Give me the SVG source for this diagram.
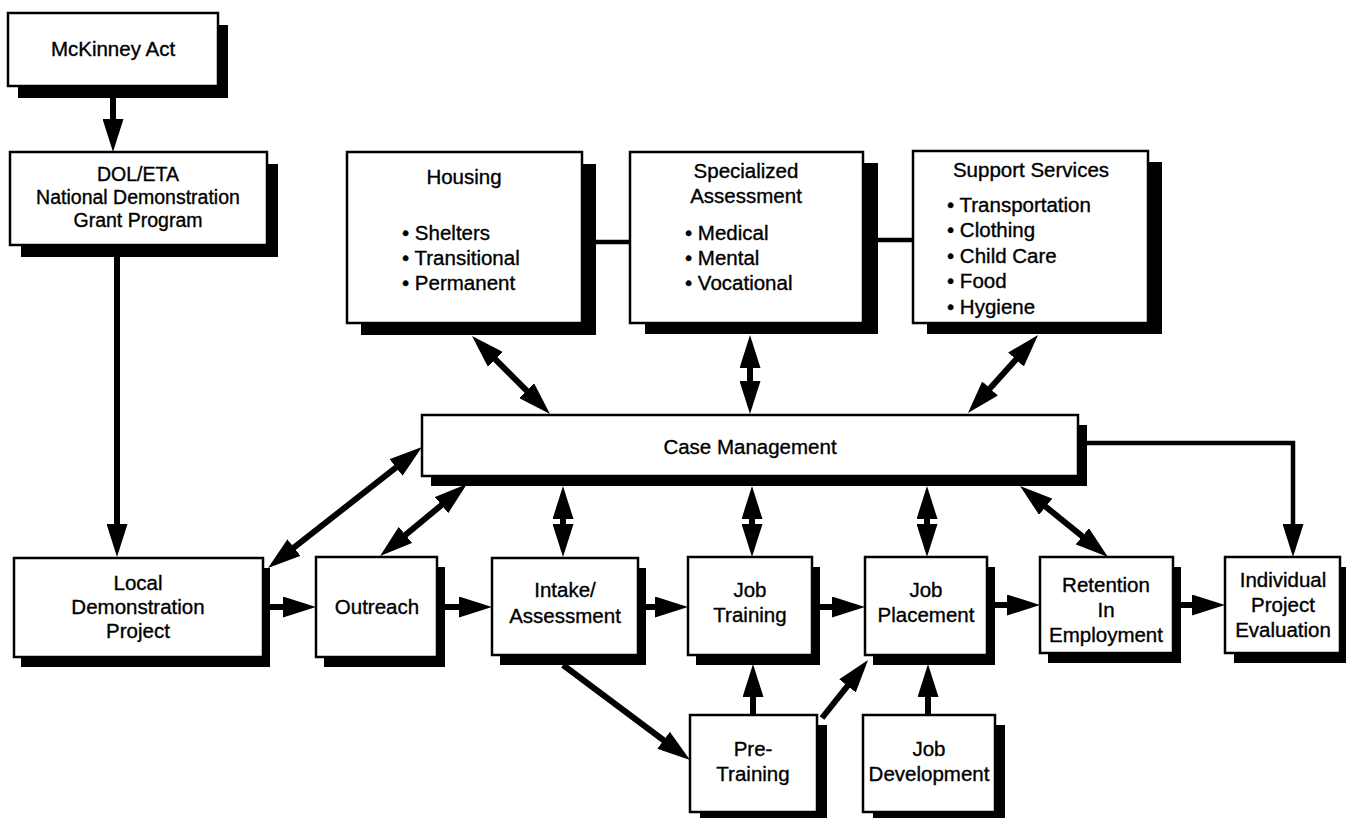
<svg xmlns="http://www.w3.org/2000/svg" width="1346" height="818" viewBox="0 0 1346 818">
<defs>
<style>
.box{fill:#fff;stroke:#000;stroke-width:2.5}
.sh{fill:#000}
text{font-family:"Liberation Sans",Arial,Helvetica,sans-serif;font-size:20.5px;fill:#000;stroke:#000;stroke-width:0.35}
.c{text-anchor:middle}
.sm{font-size:19.5px}
.conn{stroke:#000;stroke-width:6;fill:none}
.thin{stroke:#000;stroke-width:4.5;fill:none}
</style>
<marker id="ah" viewBox="0 0 33 21" markerWidth="33" markerHeight="21" refX="18" refY="10.5" orient="auto-start-reverse" markerUnits="userSpaceOnUse"><path d="M0,0 L33,10.5 L0,21 z" fill="#000"/></marker>
</defs>
<rect width="1346" height="818" fill="#fff"/>

<g id="mckinney">
<rect class="sh" x="18" y="25" width="210" height="73"/>
<rect class="box" x="8" y="13" width="210" height="73"/>
<text class="c" x="113" y="56">McKinney Act</text>
</g>

<g id="dol">
<rect class="sh" x="21" y="164" width="257" height="93"/>
<rect class="box" x="10" y="152" width="257" height="93"/>
<text class="c sm" x="138" y="181">DOL/ETA</text>
<text class="c sm" x="138" y="204">National Demonstration</text>
<text class="c sm" x="138" y="227">Grant Program</text>
</g>

<g id="housing">
<rect class="sh" x="361" y="164" width="235" height="171"/>
<rect class="box" x="347" y="152" width="235" height="171"/>
<text class="c" x="464" y="184">Housing</text>
<text x="402" y="240">• Shelters</text>
<text x="402" y="265">• Transitional</text>
<text x="402" y="290">• Permanent</text>
</g>

<g id="specialized">
<rect class="sh" x="645" y="163" width="233" height="171"/>
<rect class="box" x="630" y="152" width="233" height="171"/>
<text class="c" x="746" y="178">Specialized</text>
<text class="c" x="746" y="203">Assessment</text>
<text x="685" y="240">• Medical</text>
<text x="685" y="265">• Mental</text>
<text x="685" y="290">• Vocational</text>
</g>

<g id="support">
<rect class="sh" x="927" y="162" width="235" height="172"/>
<rect class="box" x="913" y="151" width="235" height="172"/>
<text class="c" x="1031" y="177">Support Services</text>
<text x="947" y="212">• Transportation</text>
<text x="947" y="237">• Clothing</text>
<text x="947" y="263">• Child Care</text>
<text x="947" y="288">• Food</text>
<text x="947" y="314">• Hygiene</text>
</g>

<g id="casemanagement">
<rect class="sh" x="431" y="425" width="656" height="61"/>
<rect class="box" x="422" y="415" width="656" height="61"/>
<text class="c" x="750" y="454">Case Management</text>
</g>

<g id="local">
<rect class="sh" x="21" y="568" width="249" height="99"/>
<rect class="box" x="14" y="558" width="249" height="99"/>
<text class="c" x="138" y="590">Local</text>
<text class="c" x="138" y="614">Demonstration</text>
<text class="c" x="138" y="638">Project</text>
</g>

<g id="outreach">
<rect class="sh" x="324" y="567" width="121" height="100"/>
<rect class="box" x="316" y="557" width="121" height="100"/>
<text class="c" x="377" y="614">Outreach</text>
</g>

<g id="intake">
<rect class="sh" x="500" y="568" width="146" height="97"/>
<rect class="box" x="492" y="558" width="146" height="97"/>
<text class="c" x="565" y="597">Intake/</text>
<text class="c" x="565" y="623">Assessment</text>
</g>

<g id="jobtraining">
<rect class="sh" x="696" y="567" width="124" height="98"/>
<rect class="box" x="688" y="557" width="124" height="98"/>
<text class="c" x="750" y="597">Job</text>
<text class="c" x="750" y="622">Training</text>
</g>

<g id="jobplacement">
<rect class="sh" x="873" y="567" width="122" height="98"/>
<rect class="box" x="865" y="557" width="122" height="98"/>
<text class="c" x="926" y="597">Job</text>
<text class="c" x="926" y="622">Placement</text>
</g>

<g id="retention">
<rect class="sh" x="1048" y="567" width="133" height="96"/>
<rect class="box" x="1040" y="557" width="133" height="96"/>
<text class="c" x="1106" y="592">Retention</text>
<text class="c" x="1106" y="617">In</text>
<text class="c" x="1106" y="642">Employment</text>
</g>

<g id="evaluation">
<rect class="sh" x="1234" y="567" width="115" height="96"/>
<rect class="box" x="1225" y="557" width="115" height="96"/>
<text class="c" x="1283" y="587">Individual</text>
<text class="c" x="1283" y="612">Project</text>
<text class="c" x="1283" y="637">Evaluation</text>
</g>

<g id="pretraining">
<rect class="sh" x="700" y="725" width="127" height="97"/>
<rect class="box" x="690" y="715" width="127" height="97"/>
<text class="c" x="753" y="756">Pre-</text>
<text class="c" x="753" y="781">Training</text>
</g>

<g id="jobdevelopment">
<rect class="sh" x="873" y="725" width="132" height="97"/>
<rect class="box" x="863" y="715" width="132" height="97"/>
<text class="c" x="929" y="756">Job</text>
<text class="c" x="929" y="781">Development</text>
</g>

<g id="connectors">
<line class="conn" x1="113" y1="98" x2="113" y2="137" marker-end="url(#ah)"/>
<line class="conn" x1="117" y1="257" x2="117" y2="542" marker-end="url(#ah)"/>
<line class="conn" x1="270" y1="607" x2="301" y2="607" marker-end="url(#ah)"/>
<line class="conn" x1="445" y1="607" x2="477" y2="607" marker-end="url(#ah)"/>
<line class="conn" x1="646" y1="607" x2="673" y2="607" marker-end="url(#ah)"/>
<line class="conn" x1="820" y1="607" x2="850" y2="607" marker-end="url(#ah)"/>
<line class="conn" x1="995" y1="605" x2="1025" y2="605" marker-end="url(#ah)"/>
<line class="conn" x1="1181" y1="605" x2="1210" y2="605" marker-end="url(#ah)"/>
<polyline class="thin" points="1087,443 1293,443 1293,542" marker-end="url(#ah)"/>
<line class="conn" x1="279.8" y1="558.7" x2="410.2" y2="456.3" marker-start="url(#ah)" marker-end="url(#ah)"/>
<line class="conn" x1="391.6" y1="546.4" x2="455.4" y2="493.6" marker-start="url(#ah)" marker-end="url(#ah)"/>
<line class="conn" x1="563" y1="501" x2="563" y2="542" marker-start="url(#ah)" marker-end="url(#ah)"/>
<line class="conn" x1="752" y1="501" x2="752" y2="542" marker-start="url(#ah)" marker-end="url(#ah)"/>
<line class="conn" x1="927" y1="501" x2="927" y2="542" marker-start="url(#ah)" marker-end="url(#ah)"/>
<line class="conn" x1="1031.7" y1="495.4" x2="1096.3" y2="547.6" marker-start="url(#ah)" marker-end="url(#ah)"/>
<line class="conn" x1="482.6" y1="346.6" x2="539.4" y2="403.4" marker-start="url(#ah)" marker-end="url(#ah)"/>
<line class="conn" x1="750" y1="350" x2="750" y2="399" marker-start="url(#ah)" marker-end="url(#ah)"/>
<line class="conn" x1="1028" y1="346.2" x2="978" y2="401.8" marker-start="url(#ah)" marker-end="url(#ah)"/>
<line class="thin" x1="582" y1="242" x2="630" y2="242"/>
<line class="thin" x1="863" y1="240" x2="913" y2="240"/>
<line class="conn" x1="563" y1="665" x2="678" y2="751" marker-end="url(#ah)"/>
<line class="conn" x1="753" y1="715" x2="753" y2="679" marker-end="url(#ah)"/>
<line class="conn" x1="822" y1="718" x2="858.7" y2="671.8" marker-end="url(#ah)"/>
<line class="conn" x1="928" y1="715" x2="928" y2="679" marker-end="url(#ah)"/>
</g>
</svg>
